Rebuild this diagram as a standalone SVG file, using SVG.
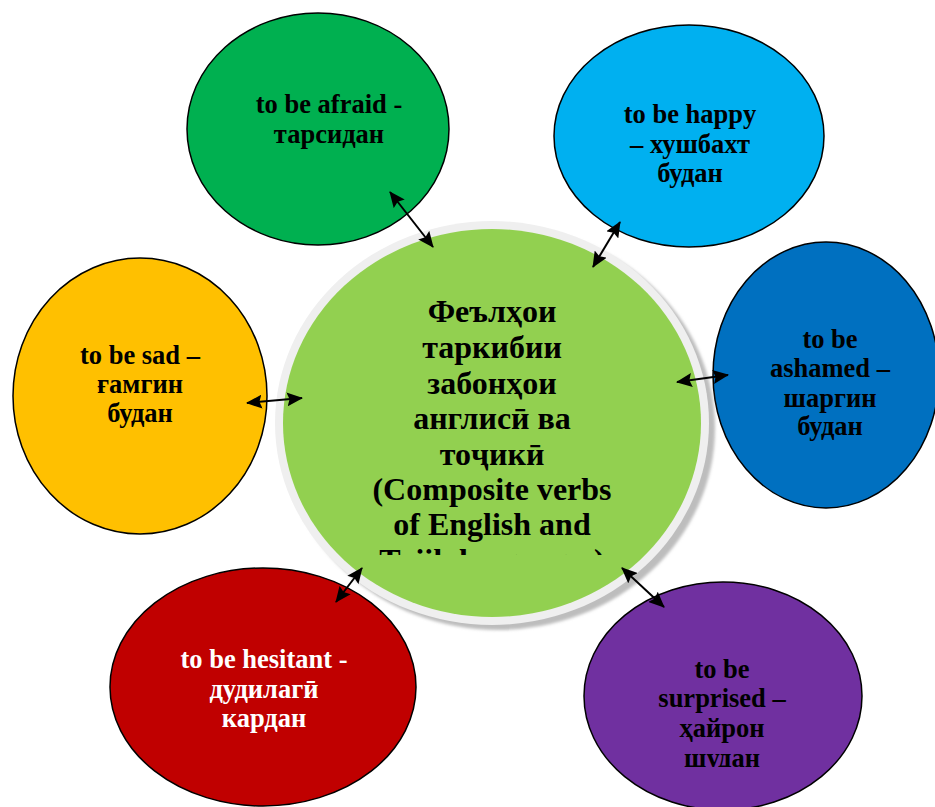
<svg xmlns="http://www.w3.org/2000/svg" width="935" height="807" viewBox="0 0 935 807">
  <style>
    .node { stroke: #000; stroke-width: 1.5; }
    .lbl { font-family: "Liberation Serif", "Times New Roman", serif; font-weight: bold; font-size: 26.5px; text-anchor: middle; fill: #000; }
    .lblw { fill: #fff; }
    .ctr { font-family: "Liberation Serif", "Times New Roman", serif; font-weight: bold; font-size: 32px; text-anchor: middle; fill: #000; }
    .conn { stroke: #000; stroke-width: 2; fill: none; marker-start: url(#ah); marker-end: url(#ah); }
  </style>
  <defs>
    <marker id="ah" viewBox="0 0 16 14" refX="15" refY="7" markerUnits="userSpaceOnUse" markerWidth="16" markerHeight="14" orient="auto-start-reverse">
      <path d="M0,0 L16,7 L0,14 L2.5,7 Z" fill="#000"/>
    </marker>
    <filter id="blur" x="-10%" y="-10%" width="120%" height="120%">
      <feGaussianBlur stdDeviation="1.5"/>
    </filter>
    <clipPath id="ctrclip"><rect x="270" y="220" width="450" height="335"/></clipPath>
    <clipPath id="purclip"><rect x="580" y="560" width="300" height="207"/></clipPath>
  </defs>

  <g id="node-afraid">
    <ellipse class="node" cx="318" cy="129" rx="131" ry="116" fill="#00B050"/>
    <text class="lbl" x="329" y="113">to be afraid -</text>
    <text class="lbl" x="329" y="143">тарсидан</text>
  </g>

  <g id="node-happy">
    <ellipse class="node" cx="689" cy="136" rx="135" ry="111" fill="#00B0F0"/>
    <text class="lbl" x="690" y="123">to be happy</text>
    <text class="lbl" x="690" y="153">– хушбахт</text>
    <text class="lbl" x="690" y="182">будан</text>
  </g>

  <g id="node-ashamed">
    <ellipse class="node" cx="826" cy="375" rx="113" ry="133" fill="#0070C0"/>
    <text class="lbl" x="830" y="348">to be</text>
    <text class="lbl" x="830" y="377">ashamed –</text>
    <text class="lbl" x="830" y="407">шаргин</text>
    <text class="lbl" x="830" y="435">будан</text>
  </g>

  <g id="node-sad">
    <ellipse class="node" cx="140" cy="396" rx="127" ry="138" fill="#FFC000"/>
    <text class="lbl" x="140" y="364">to be sad –</text>
    <text class="lbl" x="140" y="393">ғамгин</text>
    <text class="lbl" x="140" y="422">будан</text>
  </g>

  <g id="node-hesitant">
    <ellipse class="node" cx="263" cy="687" rx="153" ry="119" fill="#C00000"/>
    <text class="lbl lblw" x="264" y="668">to be hesitant -</text>
    <text class="lbl lblw" x="264" y="698">дудилагӣ</text>
    <text class="lbl lblw" x="264" y="727">кардан</text>
  </g>

  <g id="node-surprised">
    <ellipse class="node" cx="723" cy="696" rx="139" ry="114" fill="#7030A0"/>
    <g clip-path="url(#purclip)">
      <text class="lbl" x="722" y="678">to be</text>
      <text class="lbl" x="722" y="707">surprised –</text>
      <text class="lbl" x="722" y="737">ҳайрон</text>
      <text class="lbl" x="722" y="767">шудан</text>
    </g>
  </g>

  <g id="node-center">
    <ellipse cx="498" cy="428" rx="217" ry="202" fill="#bdbdbd" filter="url(#blur)"/>
    <ellipse cx="492" cy="423" rx="217" ry="202" fill="#efefef"/>
    <ellipse cx="492" cy="423" rx="209" ry="194" fill="#92D050"/>
    <g clip-path="url(#ctrclip)">
      <text class="ctr" x="492" y="322">Феълҳои</text>
      <text class="ctr" x="492" y="358">таркибии</text>
      <text class="ctr" x="492" y="394">забонҳои</text>
      <text class="ctr" x="492" y="429">англисӣ ва</text>
      <text class="ctr" x="492" y="465">тоҷикӣ</text>
      <text class="ctr" x="492" y="500">(Composite verbs</text>
      <text class="ctr" x="492" y="535">of English and</text>
      <text class="ctr" x="492" y="571">Tajik languages)</text>
    </g>
  </g>

  <g id="connectors">
    <line class="conn" x1="390" y1="192" x2="433" y2="247"/>
    <line class="conn" x1="620" y1="222" x2="593" y2="267"/>
    <line class="conn" x1="247" y1="403" x2="302" y2="398"/>
    <line class="conn" x1="677" y1="382" x2="728" y2="375"/>
    <line class="conn" x1="336" y1="602" x2="362" y2="568"/>
    <line class="conn" x1="622" y1="568" x2="664" y2="607"/>
  </g>
</svg>
